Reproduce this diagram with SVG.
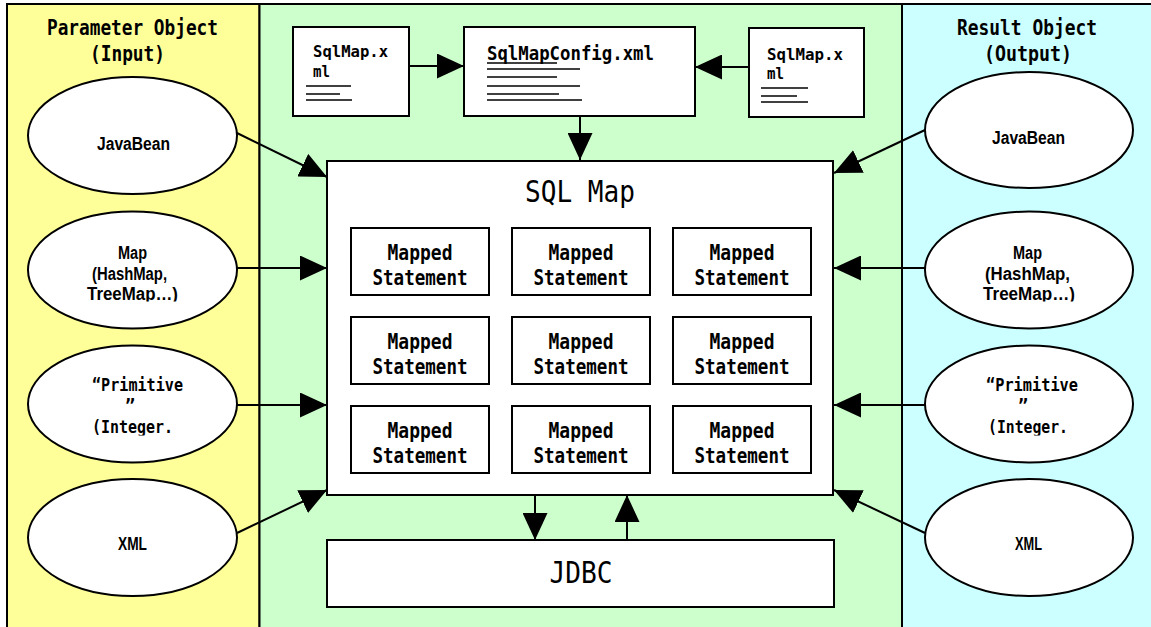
<svg xmlns="http://www.w3.org/2000/svg" width="1151" height="627" viewBox="0 0 1151 627">
<style>
.col{stroke:#000;stroke-width:2}
.box{fill:#fff;stroke:#000;stroke-width:2}
.ell{fill:#fff;stroke:#000;stroke-width:2}
.rule{stroke:#000;stroke-width:1.6}
.mono{font-family:"DejaVu Sans Mono","Liberation Mono",monospace;font-weight:bold}
.hd{font-size:21px}
.doc{font-size:16px}
.cfg{font-size:19px}
.ms{font-size:22px}
.big{font-family:"DejaVu Sans Mono","Liberation Mono",monospace;font-weight:normal;font-size:30px}
.el{font-family:"Liberation Sans","DejaVu Sans",sans-serif;font-weight:bold;font-size:18px}
.elm{font-family:"DejaVu Sans Mono","Liberation Mono",monospace;font-weight:bold;font-size:17px}
.conn line{stroke:#000;stroke-width:2;marker-end:url(#ah)}
</style>
<defs>
<marker id="ah" markerUnits="userSpaceOnUse" markerWidth="27" markerHeight="25" refX="27" refY="12.5" orient="auto" viewBox="0 0 27 25">
<path d="M0,0 L27,12.5 L0,25 z" fill="#000"/>
</marker>
<clipPath id="clipMap"><rect x="0" y="0" width="1151" height="301.5"/></clipPath>
<clipPath id="clipPrim"><rect x="0" y="0" width="1151" height="435.5"/></clipPath>
</defs>

<g id="columns">
<rect class="col" x="7" y="4" width="252.5" height="640" fill="#FFFF99"/>
<rect class="col" x="259.5" y="4" width="642.5" height="640" fill="#CCFFCC"/>
<rect class="col" x="902" y="4" width="260" height="640" fill="#CCFFFF"/>
</g>

<g id="header-input">
<text class="mono hd" x="47" y="35" textLength="171" lengthAdjust="spacingAndGlyphs">Parameter Object</text>
<text class="mono hd" x="90" y="61" textLength="75" lengthAdjust="spacingAndGlyphs">(Input)</text>
</g>
<g id="header-output">
<text class="mono hd" x="957" y="35" textLength="140" lengthAdjust="spacingAndGlyphs">Result Object</text>
<text class="mono hd" x="984" y="61" textLength="88" lengthAdjust="spacingAndGlyphs">(Output)</text>
</g>

<g id="sqlmap-doc-left">
<rect class="box" x="293" y="27" width="116" height="89"/>
<text class="mono doc" x="313" y="57" textLength="75" lengthAdjust="spacingAndGlyphs">SqlMap.x</text>
<text class="mono doc" x="313" y="77" textLength="17" lengthAdjust="spacingAndGlyphs">ml</text>
<line class="rule" x1="306" y1="86" x2="351" y2="86"/>
<line class="rule" x1="306" y1="94" x2="340" y2="94"/>
<line class="rule" x1="306" y1="100" x2="352" y2="100"/>
</g>

<g id="sqlmapconfig">
<rect class="box" x="464" y="27" width="231" height="89"/>
<text class="mono cfg" x="487" y="60" textLength="167" lengthAdjust="spacingAndGlyphs">SqlMapConfig.xml</text>
<line class="rule" x1="487" y1="63" x2="557" y2="63"/>
<line class="rule" x1="487" y1="69" x2="580" y2="69"/>
<line class="rule" x1="487" y1="77" x2="557" y2="77"/>
<line class="rule" x1="487" y1="86" x2="580" y2="86"/>
<line class="rule" x1="487" y1="94" x2="559" y2="94"/>
<line class="rule" x1="487" y1="100" x2="582" y2="100"/>
</g>

<g id="sqlmap-doc-right">
<rect class="box" x="749" y="28" width="115" height="89"/>
<text class="mono doc" x="767" y="60" textLength="76" lengthAdjust="spacingAndGlyphs">SqlMap.x</text>
<text class="mono doc" x="767" y="79" textLength="17" lengthAdjust="spacingAndGlyphs">ml</text>
<line class="rule" x1="761" y1="88" x2="808" y2="88"/>
<line class="rule" x1="761" y1="96" x2="797" y2="96"/>
<line class="rule" x1="761" y1="102" x2="808" y2="102"/>
</g>

<g id="sqlmap">
<rect class="box" x="327" y="161" width="506" height="334"/>
<text class="big" x="580" y="202" text-anchor="middle" textLength="110" lengthAdjust="spacingAndGlyphs">SQL Map</text>
</g>

<g id="ms-1-1"><rect class="box" x="351" y="228" width="138" height="67"/>
<text class="mono ms" x="420" y="260" text-anchor="middle" textLength="65" lengthAdjust="spacingAndGlyphs">Mapped</text>
<text class="mono ms" x="420" y="285" text-anchor="middle" textLength="95" lengthAdjust="spacingAndGlyphs">Statement</text></g>
<g id="ms-1-2"><rect class="box" x="512" y="228" width="138" height="67"/>
<text class="mono ms" x="581" y="260" text-anchor="middle" textLength="65" lengthAdjust="spacingAndGlyphs">Mapped</text>
<text class="mono ms" x="581" y="285" text-anchor="middle" textLength="95" lengthAdjust="spacingAndGlyphs">Statement</text></g>
<g id="ms-1-3"><rect class="box" x="673" y="228" width="138" height="67"/>
<text class="mono ms" x="742" y="260" text-anchor="middle" textLength="65" lengthAdjust="spacingAndGlyphs">Mapped</text>
<text class="mono ms" x="742" y="285" text-anchor="middle" textLength="95" lengthAdjust="spacingAndGlyphs">Statement</text></g>

<g id="ms-2-1"><rect class="box" x="351" y="317" width="138" height="67"/>
<text class="mono ms" x="420" y="349" text-anchor="middle" textLength="65" lengthAdjust="spacingAndGlyphs">Mapped</text>
<text class="mono ms" x="420" y="374" text-anchor="middle" textLength="95" lengthAdjust="spacingAndGlyphs">Statement</text></g>
<g id="ms-2-2"><rect class="box" x="512" y="317" width="138" height="67"/>
<text class="mono ms" x="581" y="349" text-anchor="middle" textLength="65" lengthAdjust="spacingAndGlyphs">Mapped</text>
<text class="mono ms" x="581" y="374" text-anchor="middle" textLength="95" lengthAdjust="spacingAndGlyphs">Statement</text></g>
<g id="ms-2-3"><rect class="box" x="673" y="317" width="138" height="67"/>
<text class="mono ms" x="742" y="349" text-anchor="middle" textLength="65" lengthAdjust="spacingAndGlyphs">Mapped</text>
<text class="mono ms" x="742" y="374" text-anchor="middle" textLength="95" lengthAdjust="spacingAndGlyphs">Statement</text></g>

<g id="ms-3-1"><rect class="box" x="351" y="406" width="138" height="67"/>
<text class="mono ms" x="420" y="438" text-anchor="middle" textLength="65" lengthAdjust="spacingAndGlyphs">Mapped</text>
<text class="mono ms" x="420" y="463" text-anchor="middle" textLength="95" lengthAdjust="spacingAndGlyphs">Statement</text></g>
<g id="ms-3-2"><rect class="box" x="512" y="406" width="138" height="67"/>
<text class="mono ms" x="581" y="438" text-anchor="middle" textLength="65" lengthAdjust="spacingAndGlyphs">Mapped</text>
<text class="mono ms" x="581" y="463" text-anchor="middle" textLength="95" lengthAdjust="spacingAndGlyphs">Statement</text></g>
<g id="ms-3-3"><rect class="box" x="673" y="406" width="138" height="67"/>
<text class="mono ms" x="742" y="438" text-anchor="middle" textLength="65" lengthAdjust="spacingAndGlyphs">Mapped</text>
<text class="mono ms" x="742" y="463" text-anchor="middle" textLength="95" lengthAdjust="spacingAndGlyphs">Statement</text></g>

<g id="jdbc">
<rect class="box" x="327" y="540" width="507" height="67"/>
<text class="big" x="581" y="583" text-anchor="middle" textLength="63" lengthAdjust="spacingAndGlyphs">JDBC</text>
</g>

<g id="in-javabean">
<ellipse class="ell" cx="132.5" cy="135.5" rx="104.5" ry="58.5"/>
<text class="el" x="133.5" y="150" text-anchor="middle" textLength="73" lengthAdjust="spacingAndGlyphs">JavaBean</text>
</g>
<g id="in-map">
<ellipse class="ell" cx="132.5" cy="270" rx="104.5" ry="58.5"/>
<g clip-path="url(#clipMap)">
<text class="el" x="132.5" y="259" text-anchor="middle" textLength="29" lengthAdjust="spacingAndGlyphs">Map</text>
<text class="el" x="129.5" y="280" text-anchor="middle" textLength="75" lengthAdjust="spacingAndGlyphs">(HashMap,</text>
<text class="el" x="132.5" y="300" text-anchor="middle" textLength="91" lengthAdjust="spacingAndGlyphs">TreeMap…)</text>
</g>
</g>
<g id="in-primitive">
<ellipse class="ell" cx="132.5" cy="404" rx="104.5" ry="58.5"/>
<g clip-path="url(#clipPrim)">
<text class="elm" x="92" y="391" textLength="91" lengthAdjust="spacingAndGlyphs">“Primitive</text>
<text class="elm" x="130" y="412" text-anchor="middle">”</text>
<text class="elm" x="92" y="433" textLength="81" lengthAdjust="spacingAndGlyphs">(Integer.</text>
</g>
</g>
<g id="in-xml">
<ellipse class="ell" cx="132.5" cy="537.5" rx="104.5" ry="58.5"/>
<text class="el" x="132.5" y="550" text-anchor="middle" textLength="29" lengthAdjust="spacingAndGlyphs">XML</text>
</g>

<g id="out-javabean">
<ellipse class="ell" cx="1029" cy="130" rx="104" ry="58"/>
<text class="el" x="1028.5" y="144" text-anchor="middle" textLength="73" lengthAdjust="spacingAndGlyphs">JavaBean</text>
</g>
<g id="out-map">
<ellipse class="ell" cx="1029" cy="270" rx="104" ry="58.5"/>
<g clip-path="url(#clipMap)">
<text class="el" x="1027.5" y="259" text-anchor="middle" textLength="29" lengthAdjust="spacingAndGlyphs">Map</text>
<text class="el" x="1027.5" y="280" text-anchor="middle" textLength="85" lengthAdjust="spacingAndGlyphs">(HashMap,</text>
<text class="el" x="1029" y="300" text-anchor="middle" textLength="92" lengthAdjust="spacingAndGlyphs">TreeMap…)</text>
</g>
</g>
<g id="out-primitive">
<ellipse class="ell" cx="1029" cy="404" rx="104" ry="58.5"/>
<g clip-path="url(#clipPrim)">
<text class="elm" x="986" y="391" textLength="92" lengthAdjust="spacingAndGlyphs">“Primitive</text>
<text class="elm" x="1023" y="412" text-anchor="middle">”</text>
<text class="elm" x="988" y="433" textLength="80" lengthAdjust="spacingAndGlyphs">(Integer.</text>
</g>
</g>
<g id="out-xml">
<ellipse class="ell" cx="1029" cy="537.5" rx="104" ry="58.5"/>
<text class="el" x="1028.5" y="550" text-anchor="middle" textLength="27" lengthAdjust="spacingAndGlyphs">XML</text>
</g>

<g id="connectors" class="conn">
<line x1="409" y1="66" x2="464" y2="66"/>
<line x1="749" y1="67" x2="695" y2="67"/>
<line x1="580" y1="116" x2="580" y2="160"/>
<line x1="237" y1="133" x2="327" y2="177"/>
<line x1="237" y1="268" x2="327" y2="268"/>
<line x1="237" y1="405" x2="327" y2="405"/>
<line x1="237" y1="533" x2="327" y2="490"/>
<line x1="925" y1="130" x2="834" y2="173"/>
<line x1="925" y1="268" x2="834" y2="268"/>
<line x1="925" y1="405" x2="834" y2="405"/>
<line x1="925" y1="533" x2="834" y2="490"/>
<line x1="535" y1="495" x2="535" y2="540"/>
<line x1="627" y1="540" x2="627" y2="495"/>
</g>
</svg>
